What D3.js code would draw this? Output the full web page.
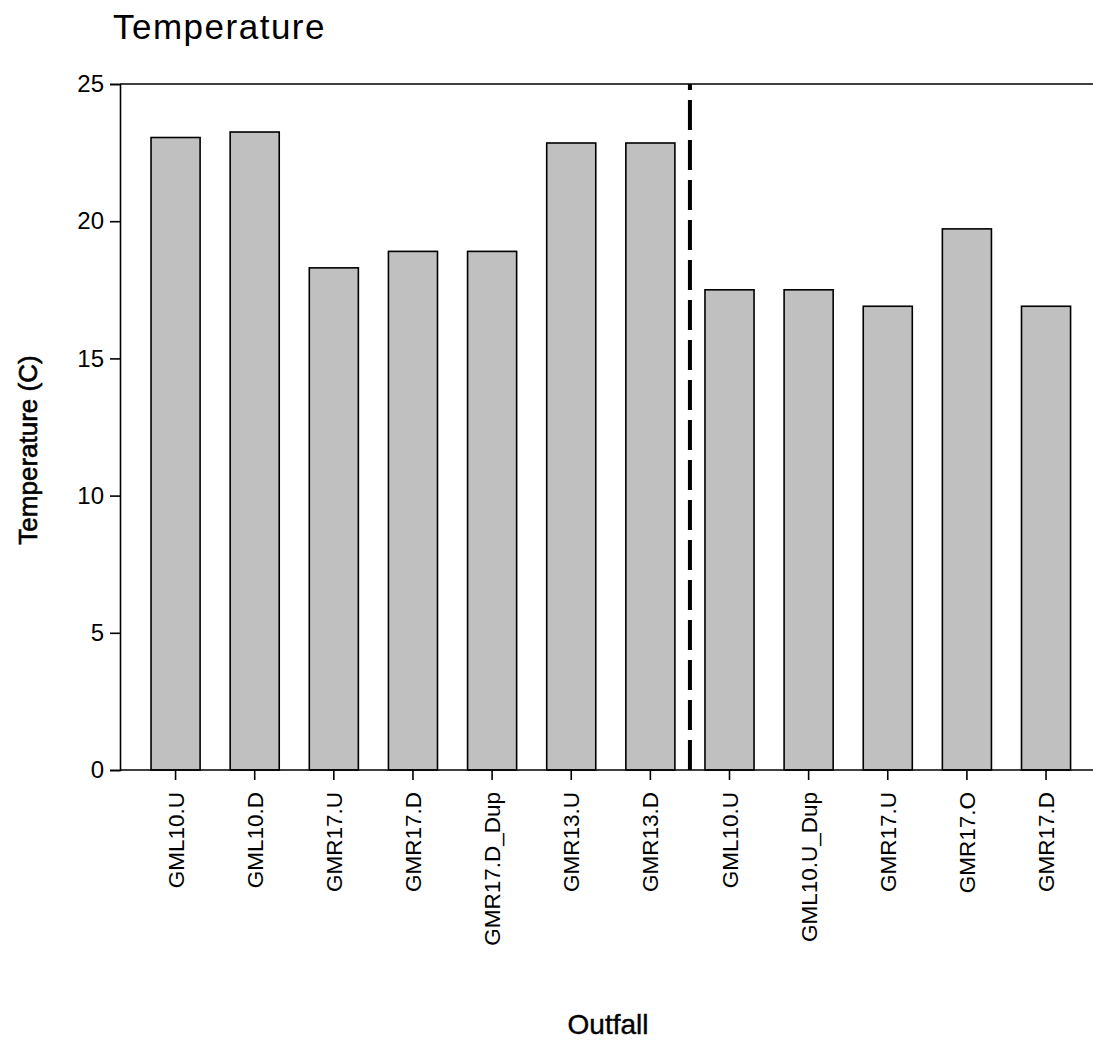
<!DOCTYPE html>
<html>
<head>
<meta charset="utf-8">
<script src="https://cdn.jsdelivr.net/npm/d3@7/dist/d3.min.js"></script>
<style>
  html, body { margin: 0; padding: 0; background: #fff; }
  svg { display: block; }
  text { font-family: "Liberation Sans", Arial, sans-serif; fill: #000; }
</style>
</head>
<body>
<svg id="chart" width="1093" height="1040"></svg>
<script>
// Outfall sites (two sampling groups separated by the dashed divider)
const outfalls = ["GML10.U", "GML10.D", "GMR17.U", "GMR17.D", "GMR17.D_Dup", "GMR13.U", "GMR13.D",
                  "GML10.U", "GML10.U_Dup", "GMR17.U", "GMR17.O", "GMR17.D"];
// Temperature in degrees C
const temperatures = [23.05, 23.25, 18.3, 18.9, 18.9, 22.85, 22.85, 17.5, 17.5, 16.9, 19.72, 16.9];
const yTicks = [0, 5, 10, 15, 20, 25];
// divider sits between the first 7 sites and the remaining 5
const groupSplit = 7;

(function () {
  const svg = d3.select("#chart");
  const plotLeft = 120, plotRight = 1093, plotTop = 84, plotBottom = 770;
  const font = "Liberation Sans, Arial, sans-serif";

  // keep duplicate site names distinct by using indices as the band domain
  const x = d3.scaleBand()
    .domain(d3.range(outfalls.length))
    .range([136, 1085.6])
    .paddingInner(0.38)
    .paddingOuter(0.19);

  const y = d3.scaleLinear().domain([0, 25]).range([plotBottom, plotTop]);

  // bars
  svg.append("g").selectAll("rect")
    .data(temperatures)
    .join("rect")
    .attr("x", (d, i) => x(i))
    .attr("y", d => y(d))
    .attr("width", x.bandwidth())
    .attr("height", d => y(0) - y(d))
    .attr("fill", "#c0c0c0")
    .attr("stroke", "#000")
    .attr("stroke-width", 1.6);

  // y axis
  const yAxis = svg.append("g")
    .attr("transform", `translate(${plotLeft},0)`)
    .call(d3.axisLeft(y).tickValues(yTicks).tickSize(10).tickPadding(6).tickFormat(d3.format("d")));
  yAxis.select(".domain").attr("stroke", "#000").attr("stroke-width", 1.6);
  yAxis.selectAll(".tick line").attr("stroke", "#000").attr("stroke-width", 1.6);
  yAxis.selectAll(".tick text").style("font-size", "24px").style("font-family", font);

  // x axis ticks and rotated site labels
  const xAxis = svg.append("g")
    .attr("transform", `translate(0,${plotBottom})`)
    .call(d3.axisBottom(x).tickSize(10).tickPadding(10).tickFormat(i => outfalls[i]));
  xAxis.select(".domain").remove();
  xAxis.selectAll(".tick line").attr("stroke", "#000").attr("stroke-width", 1.6);
  xAxis.selectAll(".tick text")
    .style("font-size", "22.5px")
    .style("font-family", font)
    .attr("text-anchor", "end")
    .attr("transform", "rotate(-90)")
    .attr("x", -22)
    .attr("y", 0)
    .attr("dy", "0.36em");

  // baseline and top frame line
  svg.append("line")
    .attr("x1", plotLeft).attr("x2", plotRight)
    .attr("y1", y(0)).attr("y2", y(0))
    .attr("stroke", "#000").attr("stroke-width", 1.6);
  svg.append("line")
    .attr("x1", plotLeft).attr("x2", plotRight)
    .attr("y1", y(25)).attr("y2", y(25))
    .attr("stroke", "#000").attr("stroke-width", 1.6);

  // dashed divider between the two site groups
  const splitX = (x(groupSplit - 1) + x.bandwidth() + x(groupSplit)) / 2;
  svg.append("line")
    .attr("x1", splitX).attr("x2", splitX)
    .attr("y1", y(0)).attr("y2", y(25))
    .attr("stroke", "#000")
    .attr("stroke-width", 4)
    .attr("stroke-dasharray", "30,10");

  // title
  svg.append("text")
    .attr("x", 113).attr("y", 39)
    .style("font-size", "35px")
    .style("letter-spacing", "1.5px")
    .text("Temperature");

  // axis titles (slightly heavier than regular weight)
  svg.append("text")
    .attr("transform", "translate(37,450) rotate(-90)")
    .attr("text-anchor", "middle")
    .style("font-size", "26px")
    .style("stroke", "#000")
    .style("stroke-width", "0.6px")
    .text("Temperature (C)");

  svg.append("text")
    .attr("x", 608).attr("y", 1034)
    .attr("text-anchor", "middle")
    .style("font-size", "28px")
    .style("stroke", "#000")
    .style("stroke-width", "0.4px")
    .text("Outfall");
})();
</script>
</body>
</html>
